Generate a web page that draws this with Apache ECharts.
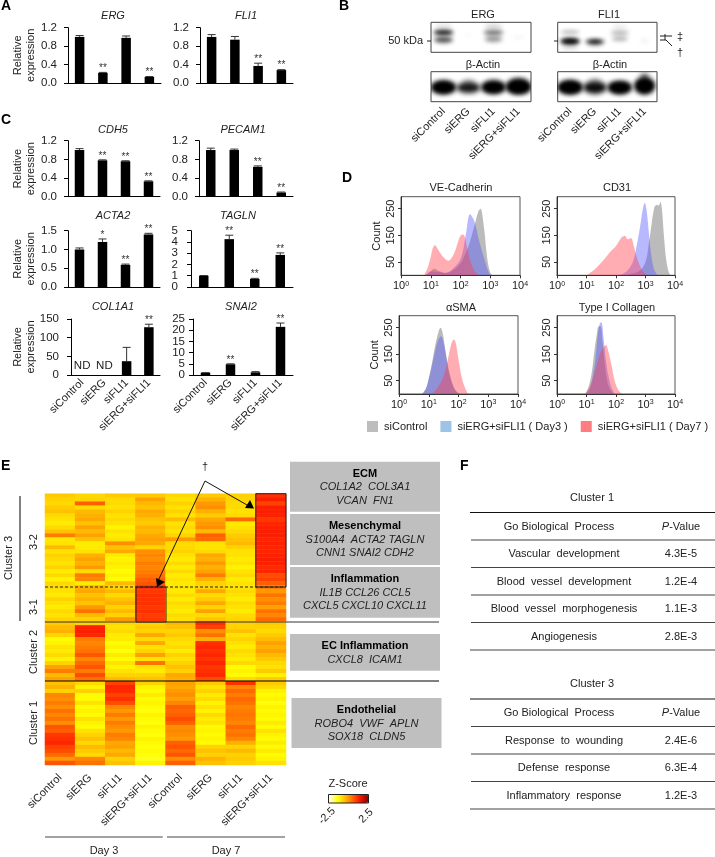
<!DOCTYPE html>
<html><head><meta charset="utf-8">
<style>html,body{margin:0;padding:0;background:#fff}#c{width:715px;height:857px}</style>
<script src="https://cdn.jsdelivr.net/npm/echarts@6/dist/echarts.min.js"></script>
</head><body><div id="c"></div>
<script>
// ---------- data ----------
const treatments = ['siControl','siERG','siFLI1','siERG+siFLI1'];
const ergVal=[1.0,0.22,0.98,0.13],   ergErr=[0.03,0.01,0.04,0.01],   ergMark=['','**','','**'];
const fli1Val=[1.0,0.94,0.37,0.28],  fli1Err=[0.05,0.07,0.06,0.01],  fli1Mark=['','','**','**'];
const cdh5Val=[1.0,0.78,0.76,0.33],  cdh5Err=[0.03,0.01,0.01,0.01],  cdh5Mark=['','**','**','**'];
const pecamVal=[1.0,1.0,0.64,0.09],  pecamErr=[0.04,0.02,0.02,0.01], pecamMark=['','','**','**'];
const acta2Val=[1.0,1.2,0.59,1.4],   acta2Err=[0.04,0.08,0.02,0.03], acta2Mark=['','*','**','**'];
const taglnVal=[1.0,4.25,0.72,2.85], taglnErr=[0.02,0.35,0.05,0.18], taglnMark=['','**','**','**'];
const col1a1Val=[null,null,37,128],  col1a1Err=[0,0,37,8],           col1a1Mark=['ND','ND','','**'];
const snai2Val=[1.0,4.8,1.2,21.5],   snai2Err=[0.05,0.2,0.3,1.7],    snai2Mark=['','**','','**'];
const ticks12=[0,0.4,0.8,1.2], ticks15=[0,0.5,1,1.5], ticks5=[0,1,2,3,4,5], ticks150=[0,50,100,150], ticks25=[0,5,10,15,20,25];

// western-blot bands: lane, height in panel (0-1), width (lanes), height (panel), darkness
const blotErg=[[0,.66,.8,.12,1],[0,.66,.7,.08,.8],[0,.42,.75,.2,.7],[0,.86,.7,.14,.14],[2,.66,.8,.12,.75],[2,.44,.7,.2,.42],[2,.86,.7,.14,.2],[1,.6,.3,.1,.04],[3,.5,.5,.1,.05]];
const blotFli=[[0,.37,.8,.18,1],[0,.37,.65,.1,1],[0,.67,.75,.09,.38],[0,.17,.7,.1,.22],[1,.35,.75,.15,.95],[1,.35,.5,.08,.6],[1,.2,.6,.08,.12],[2,.65,.75,.1,.42],[2,.45,.65,.12,.38],[2,.85,.6,.12,.1],[3,.38,.4,.1,.08]];
const actinErg=[[0,.48,1.0,.44,1],[0,.48,.85,.36,1],[1,.47,.95,.38,.9],[1,.66,.5,.2,.22],[2,.48,.98,.42,1],[2,.48,.8,.34,1],[3,.5,1.02,.5,1],[3,.5,.85,.4,1],[3,.7,.7,.2,.3],[2,.7,.6,.12,.18]];
const actinFli=[[0,.48,1.02,.46,1],[0,.48,.85,.38,1],[1,.47,.95,.42,.95],[1,.68,.5,.2,.25],[2,.47,.98,.42,1],[2,.47,.8,.34,1],[3,.53,.82,.56,1],[3,.53,.65,.42,1],[3,.84,.35,.22,.6]];

// flow cytometry histograms: [fluorescence, count]
const veGray=[[6,0],[9,10],[13,25],[20,15],[30,8],[50,15],[100,45],[150,85],[200,120],[300,190],[400,240],[470,250],[600,190],[800,60],[1000,10],[1200,0]];
const veBlue=[[7,0],[10,15],[30,10],[50,20],[100,60],[150,150],[209,229],[300,200],[400,140],[600,70],[900,10],[1100,0]];
const veRed=[[6,0],[8,30],[10,70],[12,105],[14,113],[17,100],[22,80],[30,62],[39,55],[50,65],[65,90],[85,130],[100,148],[118,153],[140,145],[170,100],[220,50],[300,15],[420,0]];
const cdGray=[[180,0],[300,5],[600,15],[1000,50],[1300,120],[1600,190],[2000,255],[2400,265],[2800,262],[3200,275],[3600,250],[4200,150],[5000,60],[6000,15],[7000,0]];
const cdBlue=[[120,0],[200,10],[300,30],[400,60],[500,110],[650,180],[800,245],[950,272],[1100,240],[1300,160],[1600,70],[2000,20],[2600,0]];
const cdRed=[[10,0],[20,25],[40,60],[60,85],[100,110],[150,140],[200,148],[250,135],[320,140],[400,110],[500,70],[650,35],[800,15],[1000,5],[1300,0]];
const smaGray=[[6,0],[8,20],[10,60],[13,120],[17,190],[22,240],[25,250],[30,225],[38,150],[50,80],[70,25],[90,8],[115,0]];
const smaBlue=[[6,0],[8,20],[10,55],[13,110],[17,170],[22,210],[26,218],[32,190],[40,130],[50,70],[70,22],[90,6],[115,0]];
const smaRed=[[10,0],[15,8],[20,25],[30,60],[40,110],[50,160],[60,195],[70,205],[80,195],[100,130],[130,60],[170,20],[215,0]];
const colGray=[[9,0],[12,30],[15,80],[18,150],[22,220],[26,255],[30,255],[35,200],[42,110],[50,50],[65,15],[85,0]];
const colBlue=[[10,0],[13,20],[16,60],[20,130],[24,220],[28,265],[32,270],[38,210],[45,130],[55,70],[70,25],[90,0]];
const colRed=[[9,0],[12,20],[16,55],[20,90],[25,130],[32,165],[40,180],[46,185],[55,160],[70,110],[90,50],[120,15],[160,0]];

const heatColumns=['siControl','siERG','siFLI1','siERG+siFLI1','siControl ','siERG ','siFLI1 ','siERG+siFLI1 '];
const cluster32=[
[-.6,-.8,-.6,-.6,-.8,-.6,-.7,1.1],
[-.7,-.7,-.8,-.1,-.9,-.3,-.7,1.3],
[-.8,.6,-.8,-.4,-.7,.0,-.8,.9],
[-.6,-.8,-.9,-.5,-.9,.1,-.8,1.3],
[-.5,-.4,-.7,-.2,-.7,-.3,-.9,1.3],
[-.8,-.3,-.9,-.3,-.9,-.6,-.8,1.25],
[-.9,-.2,-.8,-.5,-.4,-.2,.5,1.0],
[-1.,-.5,-.9,-.6,-.9,.0,-1.,1.2],
[-.8,-.1,-1.1,-.3,-.8,.1,-.9,1.25],
[-.5,-.4,-.9,-.4,-.9,-.4,-.8,1.3],
[.3,-.1,-1.,-.2,-.7,.6,-.6,1.3],
[-1.,-.5,-.9,-.1,.0,.5,-.5,1.2],
[-.9,-1.,.1,-.2,-.8,-.9,-.4,1.25],
[-.4,-1.,-.5,-.7,-.8,-.9,-.7,1.2],
[-.9,-.9,-.2,.1,-.7,-.8,-.9,1.2],
[-.7,-.3,-1.,.2,-.9,-.2,-.9,1.25],
[-.8,-.1,-1.1,.1,-1.,-.3,-1.,1.3],
[-.9,-.3,-1.,.3,-.8,.0,-.9,1.25],
[-.7,.0,-1.1,.2,-1.,-.3,-1.1,1.15],
[-1.,-.8,-1.2,.3,-.8,-.1,-.9,1.2],
[-.8,.3,-1.1,.4,-1.,.3,-.8,.8],
[-1.1,.2,-1.2,.6,-.9,-.3,-1.,.9],
[-.8,-1.,-.4,.7,-1.,-.7,-.9,.6]];
const cluster31=[
[-.8,-.3,-.7,1.1,-.9,-.7,-.9,.3],
[-.9,-.2,-.4,1.0,-1.,-.2,-.8,.0],
[-1.,-.5,-.8,1.1,-.8,-.8,-.9,.4],
[-.7,-.3,-.5,1.05,-1.,-.6,-1.,.1],
[-.9,-.5,-.3,1.1,-.8,-.2,-.8,.3],
[-1.,.0,-.7,1.0,-.9,-.7,-.9,-.1],
[-.8,.4,-.4,1.1,-1.,-.1,-1.,.4],
[-.9,-.4,-.7,.95,-.8,-.8,-.8,.2],
[-.7,-.7,.0,1.0,-.9,-.5,-.7,.5]];
const cluster2=[
[-.6,-.7,-.8,-.7,-.4,1.15,-.7,-.6],
[-.4,1.25,-.9,-.6,-.5,.9,-.7,-.7],
[-.3,1.3,-.8,-.7,-.7,.1,-.5,-.8],
[-.7,1.2,-1.,-.2,-.6,.4,-.9,-.6],
[-1.2,.3,-1.,-.8,-.8,-.3,-.7,-.4],
[-1.1,.2,-1.2,-.2,-.9,1.1,-.9,-.1],
[-.9,.3,-1.1,-.9,-.8,1.2,-1.,-.3],
[-1.,.4,-1.3,-.7,-1.,1.1,-.8,-.1],
[-.8,.7,-1.,-.1,-.7,1.2,-.9,-.4],
[-1.1,.2,-1.2,-.9,-.9,1.05,-1.,-.6],
[-.7,.5,-.9,.4,-.7,1.2,-.8,-.8],
[-.1,.7,-1.1,-.9,-.5,1.0,-1.2,-.9],
[.3,.3,-.9,-1.,-.7,1.1,-1.1,-.6],
[-.4,.8,-.7,-.7,-.2,1.15,-1.2,-1.1],
[-.1,.4,-.4,-.5,-.3,.8,-.8,-.6]];
const cluster1=[
[-.5,-.8,.9,-.7,-.1,-.6,1.1,-.6],
[-.3,-1.1,1.2,-1.1,-.2,-.9,.2,-.8],
[-.7,-.7,1.15,-1.2,.0,-.7,.5,-1.1],
[.2,-1.2,.9,-1.,.1,-1.,.3,-1.2],
[.1,-1.2,1.1,-1.2,-.1,-.8,.5,-1.1],
[.3,-.9,.8,-1.1,.2,-1.1,.4,-1.3],
[.1,-1.2,.2,-1.2,.6,-.9,.2,-1.1],
[.4,-1.1,.0,-1.3,.5,-1.1,.3,-1.2],
[.2,-1.2,.3,-1.1,.6,-.8,.35,-1.1],
[.4,-.9,.0,-1.2,.8,-1.,.3,-1.2],
[.1,-1.1,.3,-1.3,.6,-.9,.2,-1.],
[.7,-1.2,.1,-1.1,.1,-1.2,.5,-1.2],
[.6,-.9,.0,-1.2,.2,-1.1,.3,-.9],
[1.0,-.7,.3,-1.3,.1,-1.2,.4,-1.1],
[1.1,-.5,.2,-1.1,.0,-1.1,.2,-1.2],
[1.2,-.8,-.2,-1.2,.6,-1.2,-.3,-1.0],
[.9,-.4,-.1,-1.3,.7,-.7,-.7,-1.2],
[.8,-.6,-.4,-1.2,.5,-.5,-.4,-1.],
[.5,-.8,-.2,-1.3,.7,-.7,-.7,-1.2],
[.0,.2,-.7,-1.4,.1,-.3,-.6,-1.1],
[.7,.4,-.5,-1.1,.6,-.5,-.7,-.9]];
const zRange=[-2.5,2.5];

const goCluster1=[['Vascular  development','4.3E-5'],['Blood  vessel  development','1.2E-4'],['Blood  vessel  morphogenesis','1.1E-3'],['Angiogenesis','2.8E-3']];
const goCluster3=[['Response  to  wounding','2.4E-6'],['Defense  response','6.3E-4'],['Inflammatory  response','1.2E-3']];

// ---------- layout ----------
const FONT='"Liberation Sans",Arial,sans-serif', INK='#222';
const grid=[],xAxis=[],yAxis=[],series=[],title=[],graphic=[];
const base={fontFamily:FONT,color:INK,fontSize:11};
function addTitle(text,x,y,italic){title.push({text,left:x,top:y,textAlign:'center',textVerticalAlign:'middle',padding:0,
  textStyle:{fontFamily:FONT,color:INK,fontSize:11,fontWeight:'normal',fontStyle:italic?'italic':'normal'}});}

function barPanel(p){
  const gi=grid.length;
  grid.push({left:p.x0,top:p.y0,width:p.x1-p.x0,height:p.y1-p.y0});
  xAxis.push({type:'category',gridIndex:gi,data:treatments,
    axisLine:{lineStyle:{color:'#000',width:1}},axisTick:{length:4,lineStyle:{color:'#000'}},
    axisLabel:p.labels?{...base,rotate:45,margin:6,interval:0}:{show:false}});
  const tk=p.ticks, mx=tk[tk.length-1];
  yAxis.push({type:'value',gridIndex:gi,min:0,max:mx,splitLine:{show:false},
    axisLine:{show:true,lineStyle:{color:'#000',width:1}},axisTick:{show:true,length:4,customValues:tk,lineStyle:{color:'#000'}},
    axisLabel:{show:false},
    name:p.ylab?'Relative\nexpression':'',nameLocation:'middle',nameRotate:90,nameGap:p.ylabGap||31,nameMoveOverlap:false,
    nameTextStyle:{...base,lineHeight:13}});
  series.push({type:'bar',xAxisIndex:gi,yAxisIndex:gi,data:p.val,barWidth:9.5,itemStyle:{color:'#000'},silent:true});
  // tick labels placed through the value scale (the axis would thin them out on these short panels)
  series.push({type:'custom',xAxisIndex:gi,yAxisIndex:gi,silent:true,z:6,clip:false,
    data:tk.map(v=>[0,v]),
    renderItem(params,api){
      const v=api.value(1),c=api.coord([0,v]);
      return {type:'text',style:{text:v.toFixed(p.dec),x:params.coordSys.x-(p.lm||11),y:c[1],align:'right',verticalAlign:'middle',fontFamily:FONT,fontSize:11.5,fill:INK}};
    }});
  const marks=p.mark;
  series.push({type:'custom',xAxisIndex:gi,yAxisIndex:gi,silent:true,z:5,
    data:p.val.map((v,i)=>[i,(v||0),(v||0)+p.err[i]]),
    renderItem(params,api){
      const i=api.value(0),lo=api.coord([i,api.value(1)]),hi=api.coord([i,api.value(2)]);
      const ch=[];const m=marks[params.dataIndex];
      if(p.err[params.dataIndex]>0){
        ch.push({type:'line',shape:{x1:lo[0],y1:lo[1],x2:hi[0],y2:hi[1]},style:{stroke:'#333',lineWidth:1}});
        ch.push({type:'line',shape:{x1:hi[0]-4,y1:hi[1],x2:hi[0]+4,y2:hi[1]},style:{stroke:'#333',lineWidth:1}});
      }
      if(m==='ND') ch.push({type:'text',style:{text:m,x:hi[0],y:hi[1]-3,align:'center',verticalAlign:'bottom',fontFamily:FONT,fontSize:11.5,fill:INK}});
      else if(m) ch.push({type:'text',style:{text:m,x:hi[0],y:hi[1]+1,align:'center',verticalAlign:'bottom',fontFamily:FONT,fontSize:10,fill:'#333'}});
      return {type:'group',children:ch};
    }});
  addTitle(p.name,p.tx,p.ty,true);
}
const Y_A=[27.7,83],Y_C1=[140.7,196.7],Y_C2=[230.7,287],Y_C3=[319,375];
barPanel({name:'ERG',val:ergVal,err:ergErr,mark:ergMark,ticks:ticks12,dec:1,x0:68,x1:161,y0:Y_A[0],y1:Y_A[1],tx:113,ty:16,ylab:true});
barPanel({name:'FLI1',val:fli1Val,err:fli1Err,mark:fli1Mark,ticks:ticks12,dec:1,x0:200,x1:293,y0:Y_A[0],y1:Y_A[1],tx:246,ty:16});
barPanel({name:'CDH5',val:cdh5Val,err:cdh5Err,mark:cdh5Mark,ticks:ticks12,dec:1,x0:68,x1:160,y0:Y_C1[0],y1:Y_C1[1],tx:113,ty:130,ylab:true});
barPanel({name:'PECAM1',val:pecamVal,err:pecamErr,mark:pecamMark,ticks:ticks12,dec:1,x0:199,x1:293,y0:Y_C1[0],y1:Y_C1[1],tx:243,ty:130});
barPanel({name:'ACTA2',val:acta2Val,err:acta2Err,mark:acta2Mark,ticks:ticks15,dec:1,x0:68,x1:160,y0:Y_C2[0],y1:Y_C2[1],tx:113,ty:216,ylab:true});
barPanel({name:'TAGLN',val:taglnVal,err:taglnErr,mark:taglnMark,ticks:ticks5,dec:0,x0:191,x1:293,y0:Y_C2[0],y1:Y_C2[1],tx:238,ty:216,lm:13});
barPanel({name:'COL1A1',val:col1a1Val,err:col1a1Err,mark:col1a1Mark,ticks:ticks150,dec:0,x0:71,x1:160,y0:Y_C3[0],y1:Y_C3[1],tx:113,ty:307,ylab:true,labels:true,ylabGap:34,lm:12});
barPanel({name:'SNAI2',val:snai2Val,err:snai2Err,mark:snai2Mark,ticks:ticks25,dec:0,x0:193,x1:293,y0:Y_C3[0],y1:Y_C3[1],tx:241,ty:307,labels:true,lm:8});

// blots: each band is drawn only through its blurred shadow so it looks like film
const OFF=3000;
function blotPanel(p){
  const gi=grid.length;
  grid.push({left:p.x0,top:p.y0,width:p.x1-p.x0,height:p.y1-p.y0,show:true,borderColor:'#444',borderWidth:1,backgroundColor:'#fff'});
  xAxis.push({type:'category',gridIndex:gi,data:treatments,axisLine:{show:false},axisTick:{show:false},
    axisLabel:p.labels?{...base,rotate:45,margin:8,interval:0}:{show:false}});
  yAxis.push({type:'value',gridIndex:gi,min:0,max:1,show:false,splitLine:{show:false}});
  series.push({type:'custom',xAxisIndex:gi,yAxisIndex:gi,silent:true,clip:true,z:3,data:p.bands,
    renderItem(params,api){
      const c=api.coord([api.value(0),api.value(1)]);
      const sz=api.size([1,1]);
      const d=api.value(4);
      return {type:'ellipse',shape:{cx:c[0]-OFF,cy:c[1],rx:api.value(2)*sz[0]/2,ry:api.value(3)*sz[1]/2},
        style:{fill:'#000',shadowBlur:p.blur||4,shadowOffsetX:OFF,shadowColor:'rgba(0,0,0,'+d+')'}};
    }});
  addTitle(p.name,p.tx,p.ty,false);
}
blotPanel({name:'ERG',bands:blotErg,x0:431,x1:531,y0:22.3,y1:52.3,tx:483,ty:15});
blotPanel({name:'FLI1',bands:blotFli,x0:557.7,x1:657,y0:22.3,y1:52.3,tx:609,ty:15});
blotPanel({name:'β-Actin',bands:actinErg,x0:431,x1:531,y0:71.7,y1:101.7,tx:483,ty:65,labels:true,blur:5});
blotPanel({name:'β-Actin',bands:actinFli,x0:557.7,x1:657,y0:71.7,y1:101.7,tx:610,ty:65,labels:true,blur:5});

// flow histograms
const N_GRAY='siControl',N_BLUE='siERG+siFLI1 ( Day3 )',N_RED='siERG+siFLI1 ( Day7 )';
function histPanel(p){
  const gi=grid.length;
  grid.push({left:p.x0,top:p.y0,width:p.x1-p.x0,height:p.y1-p.y0,show:true,borderColor:'#555',borderWidth:1});
  xAxis.push({type:'log',gridIndex:gi,min:1,max:10000,logBase:10,splitLine:{show:false},minorTick:{show:false},
    axisLine:{onZero:false,lineStyle:{color:'#333'}},axisTick:{length:3,lineStyle:{color:'#333'}},
    axisLabel:{...base,margin:5,formatter:v=>'{b|10}{s|'+Math.round(Math.log10(v))+'}',
      rich:{b:{...base},s:{...base,fontSize:7,verticalAlign:'top',padding:[0,0,5,0]}}}});
  yAxis.push({type:'value',gridIndex:gi,min:0,max:295,splitLine:{show:false},
    axisLine:{show:true,lineStyle:{color:'#333'}},
    axisTick:{show:true,length:3,customValues:[50,150,250],lineStyle:{color:'#333'}},
    axisLabel:{...base,rotate:90,margin:5,customValues:[50,150,250]},
    name:p.ylab?'Count':'',nameLocation:'middle',nameRotate:90,nameGap:19,nameMoveOverlap:false,nameTextStyle:{...base}});
  [[p.gray,N_GRAY,'rgba(105,105,105,0.45)'],[p.blue,N_BLUE,'rgba(85,85,255,0.42)'],[p.red,N_RED,'rgba(255,60,75,0.42)']].forEach(([d,n,c],i)=>{
    series.push({type:'line',name:n,xAxisIndex:gi,yAxisIndex:gi,data:d,smooth:.35,showSymbol:false,silent:true,z:2+i,
      lineStyle:{width:0},itemStyle:{color:c},areaStyle:{color:c,opacity:1}});
  });
  addTitle(p.name,p.tx,p.ty,false);
}
histPanel({name:'VE-Cadherin',gray:veGray,blue:veBlue,red:veRed,x0:401,x1:520,y0:196.7,y1:275.3,tx:461,ty:188,ylab:true});
histPanel({name:'CD31',gray:cdGray,blue:cdBlue,red:cdRed,x0:557,x1:675,y0:196.7,y1:275.3,tx:617,ty:188});
histPanel({name:'αSMA',gray:smaGray,blue:smaBlue,red:smaRed,x0:399,x1:518,y0:315.7,y1:394,tx:461,ty:308,ylab:true});
histPanel({name:'Type I Collagen',gray:colGray,blue:colBlue,red:colRed,x0:557,x1:675,y0:315.7,y1:394,tx:617,ty:308});

// heatmap
const heatRows=[...cluster32,...cluster31,...cluster2,...cluster1];
const hg=grid.length;
grid.push({left:45,top:493.7,width:241,height:271.3});
xAxis.push({type:'category',gridIndex:hg,data:heatColumns,axisLine:{show:false},axisTick:{show:false},
  axisLabel:{...base,rotate:45,margin:11,interval:0,formatter:v=>v.trim()}});
yAxis.push({type:'category',gridIndex:hg,inverse:true,data:heatRows.map((_,i)=>i),show:false});
const heatIdx=series.length;
series.push({type:'heatmap',xAxisIndex:hg,yAxisIndex:hg,silent:true,progressive:0,
  data:heatRows.flatMap((r,j)=>r.map((v,i)=>[i,j,v]))});

// ---------- annotations ----------
const Z=50;
function T(x,y,text,o={}){graphic.push({type:'text',x,y,z:Z,rotation:(o.rot||0)*Math.PI/180,silent:true,
  style:{text,align:o.align||'center',verticalAlign:'middle',fontFamily:FONT,fontSize:o.size||11,fontWeight:o.bold?'bold':'normal',fontStyle:o.it?'italic':'normal',fill:o.fill||INK}});}
function L(x1,y1,x2,y2,c='#000',w=1,dash){graphic.push({type:'line',z:Z-1,silent:true,shape:{x1,y1,x2,y2},style:{stroke:c,lineWidth:w,lineDash:dash||null}});}
function R(x,y,w,h,fill,stroke,lw=1){graphic.push({type:'rect',z:fill?Z-5:Z-1,silent:true,shape:{x,y,width:w,height:h},style:{fill:fill||'none',stroke:stroke||null,lineWidth:lw}});}
function Tri(pts,c){graphic.push({type:'polygon',z:Z,silent:true,shape:{points:pts},style:{fill:c}});}

// panel letters
[['A',1,6],['B',339,6],['C',1,120],['D',342,178],['E',1,466],['F',460,466]].forEach(([s,x,y])=>T(x,y,s,{align:'left',bold:true,size:14,fill:'#000'}));

// blot side marks
T(423,41,'50 kDa',{align:'right'});L(427,41,431,41,'#222');L(554,41,558,41,'#222');
L(660,36,672,36,'#222');L(660,40,666,40,'#222');L(666,40,672,46,'#222');L(665,34,665,40,'#222');
T(680,37,'‡');T(680,53,'†');

// E decorations
L(20,496,20,621,'#000');
T(9,558,'Cluster 3',{rot:90});T(34,542,'3-2',{rot:90});T(34,607,'3-1',{rot:90});T(34,652,'Cluster 2',{rot:90});T(34,723,'Cluster 1',{rot:90});
L(45,587,286,587,'#222',1,[3,2]);
L(45,622,439,622,'#333',1);L(45,681,439,681,'#000',1);
R(255.8,493.7,30.2,93.3,null,'#222',1);R(136,587,30,35,null,'#222',1);
T(205,467,'†');
L(205,481,158,581,'#111',1);L(205,481,247,505,'#111',1);
Tri([[157,587],[156,578],[165,582]],'#000');Tri([[254,508.5],[245,508],[250,500]],'#000');
const boxes=[[290,461.7,50,'ECM',['COL1A2  COL3A1','VCAN  FN1']],[290,514,51,'Mesenchymal',['S100A4  ACTA2 TAGLN','CNN1 SNAI2 CDH2']],
 [290,567,50.7,'Inflammation',['IL1B CCL26 CCL5','CXCL5 CXCL10 CXCL11']],[290,634,36.7,'EC Inflammation',['CXCL8  ICAM1']],[291.5,698,50,'Endothelial',['ROBO4  VWF  APLN','SOX18  CLDN5']]];
boxes.forEach(([x,y,h,t,ls])=>{R(x,y,150,h,'#bfbfbf');T(x+75,y+12,t,{bold:true,fill:'#000',size:11});ls.forEach((s,i)=>T(x+75,y+12+13.5*(i+1),s,{it:true}));});
T(348,784,'Z-Score',{size:11});
R(328.5,794.5,40,8.5,null,'#222',1);
T(327,816,'-2.5',{rot:45});T(366,816,'2.5',{rot:45});
L(45,837,162.7,837,'#444',1);L(167,837,285,837,'#444',1);T(104,851,'Day 3');T(226,851,'Day 7');

// F tables
function table(head,rows,y0,lines){
  T(592,y0,head);
  T(559,lines[0]+14,'Go Biological  Process');
  graphic.push({type:'text',x:681,y:lines[0]+14,z:Z,silent:true,style:{text:'{i|P}-Value',align:'center',verticalAlign:'middle',rich:{i:{fontStyle:'italic',fontFamily:FONT,fontSize:11,fill:INK}},fontFamily:FONT,fontSize:11,fill:INK}});
  lines.forEach((y,i)=>L(i===0||i===lines.length-1?470:471,y,715,y,i===0?'#111':'#444',1));
  rows.forEach((r,i)=>{T(564,lines[i+1]+14,r[0]);T(681,lines[i+1]+14,r[1]);});
}
table('Cluster 1',goCluster1,498,[512.5,540,567.5,595,622.5,650]);
table('Cluster 3',goCluster3,684,[699,726.5,754,781.5,809]);

const chart=echarts.init(document.getElementById('c'),null,{renderer:'canvas',width:715,height:857});
chart.setOption({animation:false,backgroundColor:'#fff',grid,xAxis,yAxis,series,title,graphic:{elements:graphic},
  tooltip:{show:false},
  legend:{left:367,top:421,itemWidth:11,itemHeight:11,itemGap:13,icon:'rect',selectedMode:false,padding:0,
    textStyle:{...base,padding:[0,0,0,1]},
    data:[{name:N_GRAY,itemStyle:{color:'#bdbdbd'}},{name:N_BLUE,itemStyle:{color:'#9dc3e6'}},{name:N_RED,itemStyle:{color:'#ff7c80'}}]},
  visualMap:{type:'continuous',seriesIndex:heatIdx,min:zRange[0],max:zRange[1],orient:'horizontal',left:328.5,top:794.5,
    itemWidth:8.5,itemHeight:40,text:null,calculable:false,hoverLink:false,realtime:false,padding:0,
    inRange:{color:['#ffffff','#ffff00','#ff9900','#ff2000','#8b0000']}}
});
</script></body></html>
